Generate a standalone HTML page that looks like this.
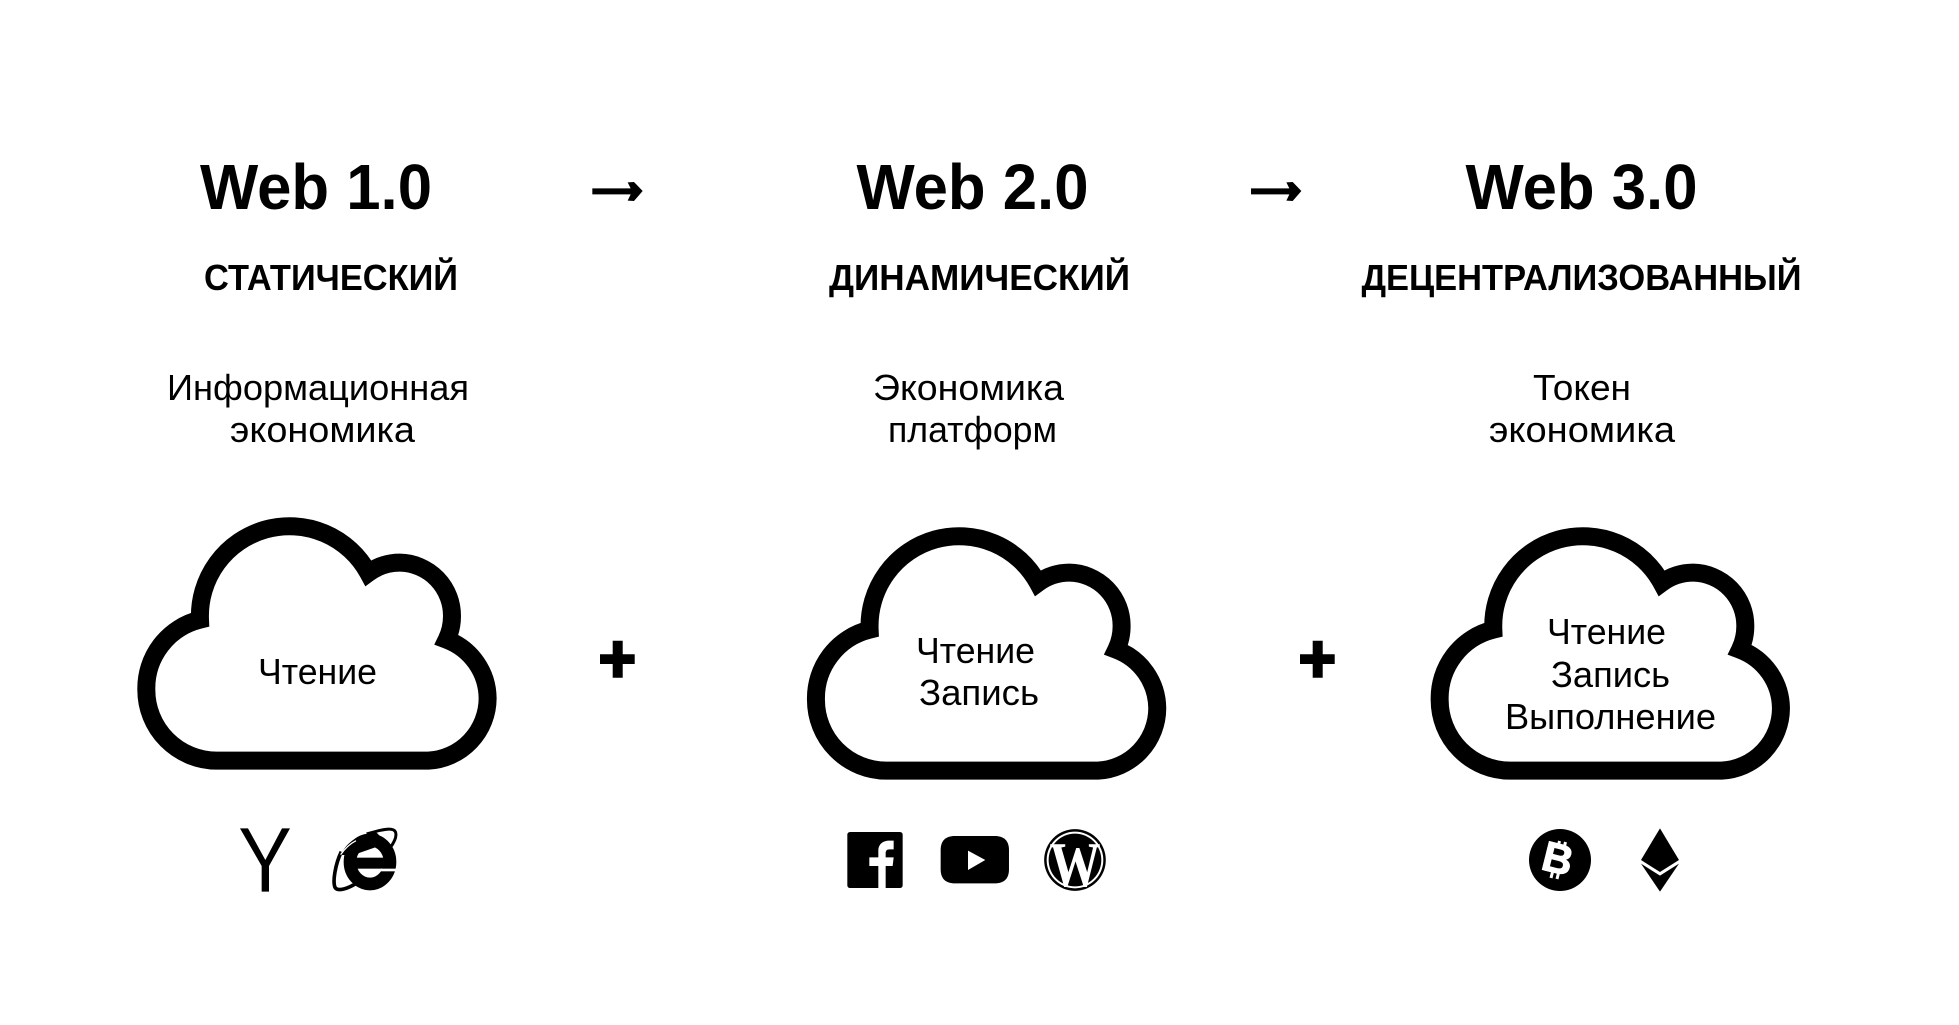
<!DOCTYPE html>
<html lang="ru">
<head>
<meta charset="utf-8">
<title>Web 1.0 / 2.0 / 3.0</title>
<style>
html,body{margin:0;padding:0;background:#fff;width:1959px;height:1025px;overflow:hidden}
svg{display:block}
text{font-family:"Liberation Sans",sans-serif;fill:#000}
.h{font-size:64px;font-weight:bold}
.s{font-size:36px;font-weight:bold}
.b{font-size:36px}
</style>
</head>
<body>
<svg width="1959" height="1025" viewBox="0 0 1959 1025" xmlns="http://www.w3.org/2000/svg">
<rect width="1959" height="1025" fill="#fff"/>

<text class="h" x="200" y="209" textLength="232" lengthAdjust="spacingAndGlyphs">Web 1.0</text>
<text class="h" x="861" y="209" textLength="232" lengthAdjust="spacingAndGlyphs" transform="translate(-4.500,0)">Web 2.0</text>
<text class="h" x="1465.500" y="209" textLength="232" lengthAdjust="spacingAndGlyphs">Web 3.0</text>

<text class="s" x="204" y="290" textLength="254" lengthAdjust="spacingAndGlyphs">СТАТИЧЕСКИЙ</text>
<text class="s" x="829" y="290" textLength="301" lengthAdjust="spacingAndGlyphs">ДИНАМИЧЕСКИЙ</text>
<text class="s" x="1361.500" y="290" textLength="440" lengthAdjust="spacingAndGlyphs">ДЕЦЕНТРАЛИЗОВАННЫЙ</text>

<text class="b" x="167" y="400" textLength="302" lengthAdjust="spacingAndGlyphs">Информационная</text>
<text class="b" x="230" y="442" textLength="185" lengthAdjust="spacingAndGlyphs">экономика</text>
<text class="b" x="873" y="400" textLength="191" lengthAdjust="spacingAndGlyphs">Экономика</text>
<text class="b" x="888" y="442" textLength="169" lengthAdjust="spacingAndGlyphs">платформ</text>
<text class="b" x="1533" y="400" textLength="98" lengthAdjust="spacingAndGlyphs">Токен</text>
<text class="b" x="1489" y="442" textLength="186" lengthAdjust="spacingAndGlyphs">экономика</text>

<!-- arrows -->
<g transform="translate(560,160) scale(.3333)"><polygon points="97,85 212,85 203,67 222,66 248,93 222,123 203,122 212,103 97,103"/></g>
<g transform="translate(1218.7,160) scale(.3333)"><polygon points="97,85 212,85 203,67 222,66 248,93 222,123 203,122 212,103 97,103"/></g>

<!-- clouds -->
<g fill="none" stroke="#000" stroke-width="54" stroke-miterlimit="10">
<path transform="translate(106.67,490) scale(.3333)" d="M330 812A212 212 0 0 1 119 600A212 212 0 0 1 280 389A269 269 0 0 1 785 249A159 159 0 0 1 880 218A159 159 0 0 1 1036 380A159 159 0 0 1 1020 449A190 190 0 0 1 1143 625A188 188 0 0 1 965 812Z"/>
<path transform="translate(776.3,500) scale(.3333)" d="M330 812A212 212 0 0 1 119 600A212 212 0 0 1 280 389A269 269 0 0 1 785 249A159 159 0 0 1 880 218A159 159 0 0 1 1036 380A159 159 0 0 1 1020 449A190 190 0 0 1 1143 625A188 188 0 0 1 965 812Z"/>
<path transform="translate(1400,500) scale(.3333)" d="M330 812A212 212 0 0 1 119 600A212 212 0 0 1 280 389A269 269 0 0 1 785 249A159 159 0 0 1 880 218A159 159 0 0 1 1036 380A159 159 0 0 1 1020 449A190 190 0 0 1 1143 625A188 188 0 0 1 965 812Z"/>
</g>

<text class="b" x="258" y="684" textLength="119" lengthAdjust="spacingAndGlyphs">Чтение</text>
<text class="b" x="916" y="663" textLength="119" lengthAdjust="spacingAndGlyphs">Чтение</text>
<text class="b" x="919" y="705" textLength="120" lengthAdjust="spacingAndGlyphs">Запись</text>
<text class="b" x="1547" y="644" textLength="119" lengthAdjust="spacingAndGlyphs">Чтение</text>
<text class="b" x="1551" y="687" textLength="119" lengthAdjust="spacingAndGlyphs">Запись</text>
<text class="b" x="1505" y="729" textLength="211" lengthAdjust="spacingAndGlyphs">Выполнение</text>

<!-- plus -->
<path d="M612.7 640.7h10v13.6h12v9.7h-12v13.7h-10v-13.7H600v-9.7h12.7z"/>
<path d="M1312.7 640.7h10v13.6h12v9.7h-12v13.7h-10v-13.7H1300v-9.7h12.7z"/>

<!-- Yandex Y + IE -->
<g transform="translate(220,810) scale(.3333)">
<polygon points="60,55 84,55 136,150 186,55 210,55 147,168 147,245 125,245 125,168"/>
<path d="M364 125C345 165 338 215 345 232C352 246 385 236 412 218" fill="none" stroke="#000" stroke-width="11"/>
<path d="M440 72C480 60 518 50 526 65C532 78 524 95 510 114" fill="none" stroke="#000" stroke-width="9"/>
<path d="M362 135C380 95 420 70 470 68L500 100L400 135Z" fill="#000"/>
<ellipse cx="450" cy="156" rx="60" ry="66" fill="none" stroke="#000" stroke-width="38"/>
<rect x="400" y="143" width="110" height="33" fill="#000"/>
<rect x="482" y="176" width="55" height="8" fill="#fff"/>
<path d="M362 134C375 115 392 100 408 92" fill="none" stroke="#fff" stroke-width="4"/>
</g>

<!-- Facebook, YouTube, WordPress -->
<g transform="translate(820,810) scale(.3333)">
<rect x="82" y="66" width="166" height="168" rx="8"/>
<path d="M175 234V168H148V142H175V122C175 102 190 92 208 92H221V118H208C200 118 197 123 197 130V142H221L218 168H197V234Z" fill="#fff"/>
<path d="M405 78H524C552 78 567 92 567 120V178C567 206 552 220 524 220H405C377 220 362 206 362 178V120C362 92 377 78 405 78Z"/>
<polygon points="444,122 444,180 496,150" fill="#fff"/>
<circle cx="765" cy="150" r="92.5"/>
<circle cx="765" cy="150" r="85" fill="#fff"/>
<circle cx="765" cy="150" r="79"/>
</g>
<text x="1049.500" y="886" textLength="51" lengthAdjust="spacingAndGlyphs" style="font-family:'Liberation Serif',serif;font-size:64px;font-weight:bold;fill:#fff">W</text>

<!-- Bitcoin, Ethereum -->
<circle cx="1560" cy="860" r="31"/>
<text x="1558" y="873" text-anchor="middle" transform="rotate(14 1558 858)" style="font-size:42px;font-weight:bold;fill:#fff;stroke:#fff;stroke-width:1">B</text>
<g stroke="#fff" stroke-width="3">
<path d="M1559.500 841l-1.500 6M1565.500 842l-1.500 6M1551 878l1.500-6M1557 879l1.500-6M1544.500 869l6 1.500M1550 845l6 1.500"/>
</g>
<g transform="translate(1520,810) scale(.3333)">
<polygon points="420,55 477,150 420,186 363,150"/>
<polygon points="363,161 420,197 477,161 420,245"/>
</g>
</svg>
</body>
</html>
